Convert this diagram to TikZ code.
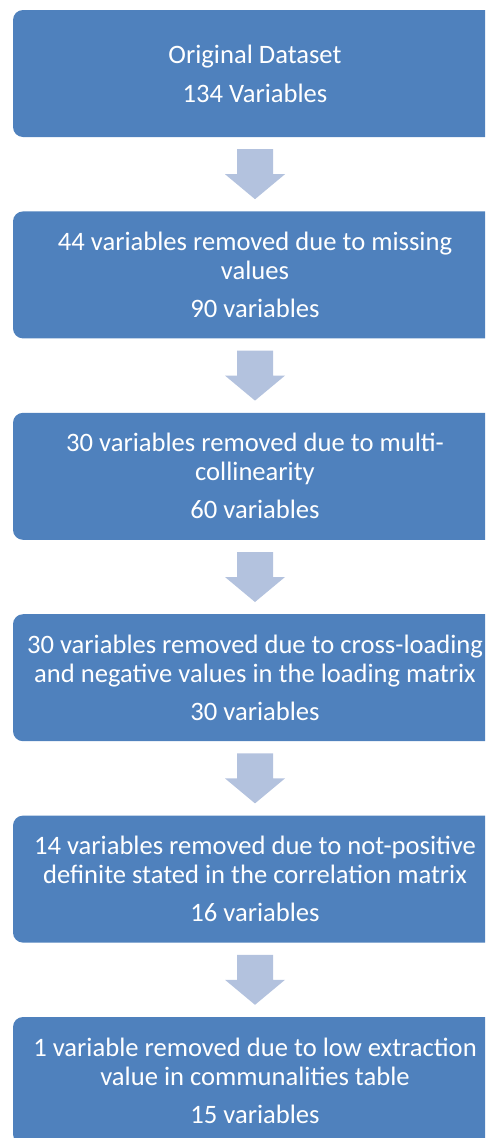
\documentclass[tikz,border=0pt]{standalone}
\usepackage{fontspec}
\setmainfont{Carlito}
\usetikzlibrary{positioning,calc}
\definecolor{boxblue}{HTML}{4F81BD}
\definecolor{arrowblue}{HTML}{B3C2DE}
\tikzset{
	stage/.style={rectangle,rounded corners=10pt,fill=boxblue,text=white,
		minimum width=484pt,minimum height=127pt,inner sep=0pt,align=center,
		font=\fontsize{26.6}{29}\selectfont},
}
% block arrow under a stage box
\newcommand{\stagearrow}[1]{%
	\fill[arrowblue] ($(#1.south)+(-18pt,-12pt)$) -- ++(36pt,0) -- ++(0,-25pt) -- ++(12pt,0)
		-- ($(#1.south)+(0,-62pt)$) -- ($(#1.south)+(-30pt,-37pt)$) -- ++(12pt,0) -- cycle;}
\begin{document}
\begin{tikzpicture}[node distance=74pt]
	\useasboundingbox (0,0) rectangle (485pt,-1138pt);
	\clip (0,0) rectangle (485pt,-1138pt);
	\node[stage] (orig) at (255pt,-73.5pt) {Original Dataset\\[10pt]134 Variables};
	\node[stage,below=of orig] (missing) {44 variables removed due to missing\\values\\[9pt]90 variables};
	\node[stage,below=of missing] (collin) {30 variables removed due to multi-\\collinearity\\[9pt]60 variables};
	\node[stage,below=of collin] (cross) {30 variables removed due to cross-loading\\and negative values in the loading matrix\\[9pt]30 variables};
	\node[stage,below=of cross] (posdef) {14 variables removed due to not-positive\\definite stated in the correlation matrix\\[9pt]16 variables};
	\node[stage,below=of posdef] (commun) {1 variable removed due to low extraction\\value in communalities table\\[9pt]15 variables};
	\foreach\s in {orig,missing,collin,cross,posdef} {
		\stagearrow{\s}
	}
\end{tikzpicture}
\end{document}
